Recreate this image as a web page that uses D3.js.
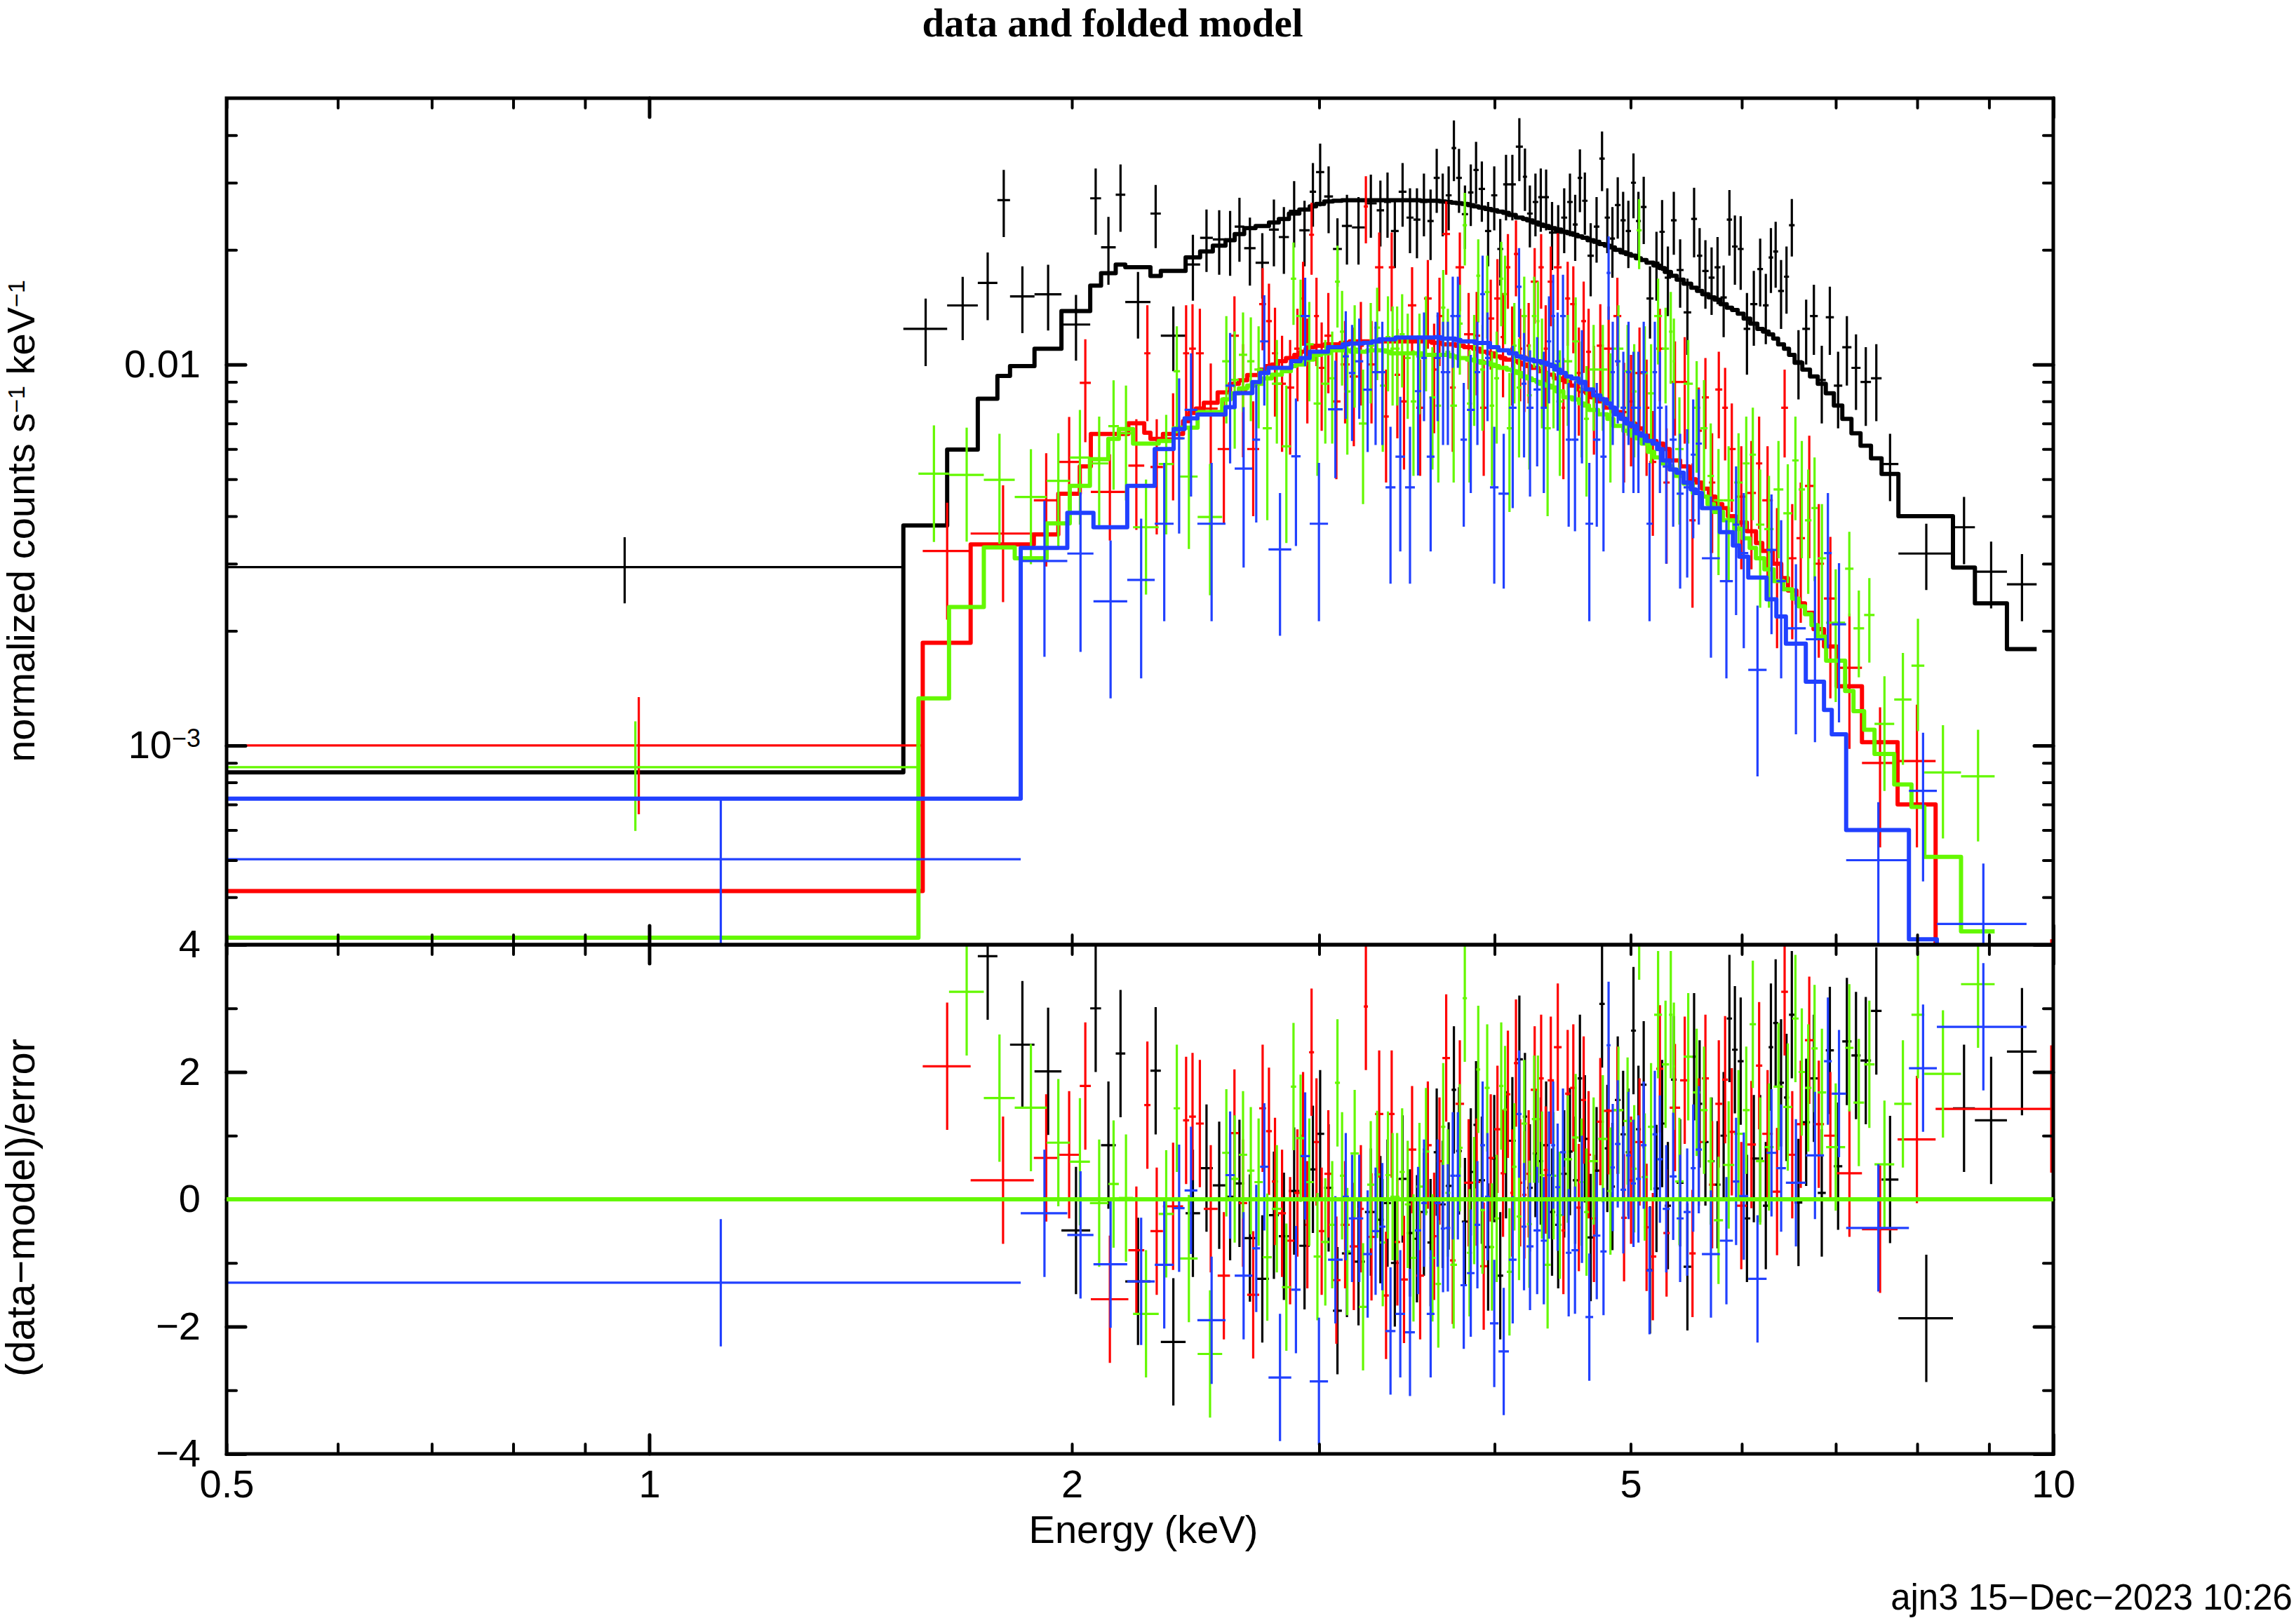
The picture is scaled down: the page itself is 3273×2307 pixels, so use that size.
<!DOCTYPE html>
<meta charset="utf-8">
<style>
html, body {
  margin: 0;
  padding: 0;
  background: #fff;
}
svg {
  display: block;
  font-family: "Liberation Sans", Arial, sans-serif;
  font-size: 56px;
}
svg text {
  fill: #000;
  stroke: none;
}
.title {
  font-family: "Liberation Serif", serif;
  font-weight: bold;
  font-size: 57px;
}
.tick line, .frame {
  stroke: #000;
  fill: none;
  stroke-linecap: round;
}
.frame {
  stroke-width: 5px;
}
.cross {
  stroke-width: 3.2px;
  fill: none;
}
.model {
  stroke-width: 6px;
  fill: none;
  stroke-linejoin: round;
}
</style>
<body>
<div id="chart"></div>
<script src="https://d3js.org/d3.v7.min.js"></script>
<script>

// each row of a spectrum: upper bin edge (keV), data, data error, folded model, (data-model)/error
// a residual of 6 means the point is off the top of the lower panel
var blackLow = 0.404;
var blackBins = [
  [1.517, .00294, .00058, .00085, 6], [1.630, .0124, .0025, .00378, 6], [1.714, .01429, .0027, .00598, 6],
  [1.770, .01637, .0033, .00813, 3.82], [1.807, .027, .0054, .00933, 6], [1.881, .01509, .003, .0099, 2.43],
  [1.966, .01528, .003, .011, 2.01], [2.061, .01273, .0025, .01382, -.49], [2.098, .0273, .0054, .01611, 3.0],
  [2.149, .0203, .0041, .01737, .85], [2.183, .0279, .0056, .0183, 2.29], [2.275, .01459, .0029, .018, -1.29],
  [2.314, .0249, .0047, .01708, 2.02], [2.410, .0119, .0023, .0176, -2.24], [2.468, .0183, .0036, .0191, -.22],
  [2.520, .0215, .004, .0198, .49], [2.573, .0213, .0041, .0205, .22], [2.612, .0212, .0041, .0212, .04],
  [2.653, .023, .0044, .022, .25], [2.703, .0202, .0041, .0228, -.61], [2.763, .0185, .0036, .0231, -1.25],
  [2.808, .0226, .0045, .0236, -.25], [2.855, .0216, .0043, .0241, -.58], [2.904, .0253, .005, .0249, .13],
  [2.954, .0225, .0044, .0255, -.73], [2.985, .0284, .0054, .026, .47], [3.025, .032, .006, .0264, 1.03],
  [3.069, .0276, .0055, .0268, .18], [3.114, .0201, .0041, .0269, -1.75], [3.166, .0231, .0048, .027, -.85],
  [3.234, .0229, .0046, .027, -.98], [3.297, .0265, .005, .027, -.2], [3.337, .0254, .005, .027, -.32],
  [3.375, .0267, .0052, .027, -.06], [3.418, .0224, .0045, .027, -1.0], [3.462, .0284, .0054, .027, .32],
  [3.502, .0243, .0047, .027, -.53], [3.542, .024, .005, .027, -.62], [3.583, .0267, .005, .0269, -.2],
  [3.620, .0238, .005, .0269, -.68], [3.656, .0309, .0059, .0269, .74], [3.692, .0267, .005, .0268, -.08],
  [3.728, .0278, .0053, .0267, .21], [3.756, .037, .0067, .0266, 1.72], [3.791, .0309, .0059, .0265, .76],
  [3.830, .0248, .0047, .0264, -.35], [3.864, .0283, .0052, .0262, .43], [3.897, .0324, .006, .026, 1.17],
  [3.938, .0289, .0052, .0258, .3], [3.978, .0224, .0043, .0256, -.75], [4.018, .0278, .0053, .0254, .64],
  [4.057, .0201, .004, .0252, -1.2], [4.095, .0297, .0058, .025, .7], [4.142, .0297, .0058, .0247, .92],
  [4.190, .0373, .007, .0243, 2.2], [4.219, .0311, .0058, .0241, 1.3], [4.258, .0249, .0046, .0239, .18],
  [4.297, .0267, .005, .0236, .72], [4.333, .0275, .0052, .0233, .6], [4.373, .0275, .005, .0231, .85],
  [4.418, .0222, .0045, .0228, -.2], [4.462, .0222, .004, .0226, -.4], [4.506, .0243, .0047, .0223, .4],
  [4.547, .0267, .005, .0221, .75], [4.584, .0233, .0046, .0219, .3], [4.618, .0309, .0058, .0217, 1.9],
  [4.659, .0269, .005, .0215, .95], [4.707, .0193, .0042, .0212, -.6], [4.750, .023, .0045, .021, .45],
  [4.792, .0347, .0062, .0207, 3.07], [4.833, .0243, .0047, .0205, .8], [4.873, .0214, .0045, .0203, .2],
  [4.918, .0262, .0048, .02, 1.56], [4.960, .0239, .0045, .0197, 1.02], [5.003, .0224, .0045, .0195, .74],
  [5.044, .03, .0058, .0193, 2.65], [5.085, .0238, .0046, .019, 1.1], [5.132, .0259, .0052, .0188, 1.8],
  [5.191, .0149, .0032, .0185, -1.11], [5.242, .0185, .0038, .0182, .17], [5.288, .0223, .0047, .0179, 1.19],
  [5.342, .0169, .0035, .0175, -.1], [5.392, .0239, .0045, .0171, 1.88], [5.454, .0177, .0036, .0167, .26],
  [5.522, .0137, .0031, .0163, -1.06], [5.575, .0241, .005, .0159, 2.24], [5.623, .0193, .0035, .0156, 1.5],
  [5.682, .0176, .0036, .0153, .9], [5.738, .0169, .0034, .015, .6], [5.794, .018, .0036, .0148, .23],
  [5.854, .015, .0032, .0144, 1.0], [5.905, .024, .0047, .0141, 2.84], [5.960, .0204, .0042, .0139, 2.35],
  [6.018, .0201, .0044, .0136, 2.17], [6.084, .0124, .003, .0132, -.3], [6.155, .0144, .0032, .0128, .64],
  [6.212, .0178, .0036, .0124, .64], [6.270, .0143, .003, .0122, -.1], [6.317, .0191, .0037, .012, 2.39],
  [6.368, .0198, .0039, .0117, 2.77], [6.430, .0156, .0032, .0113, 1.83], [6.483, .017, .0034, .011, 1.6],
  [6.543, .0232, .004, .0106, 2.9], [6.626, .0102, .0021, .0101, -.05], [6.710, .0124, .0024, .0097, 1.21],
  [6.796, .0134, .0028, .0093, 1.9], [6.886, .0091, .0021, .0089, .1], [6.978, .0133, .0027, .0084, 2.34],
  [7.075, .0088, .002, .0078, .52], [7.182, .0111, .0023, .0072, 2.48], [7.290, .0098, .0022, .0066, 2.26],
  [7.416, .009, .0021, .00612, 2.18], [7.546, .0092, .0021, .00567, 2.96], [7.757, .00548, .0011, .00516, .31],
  [8.483, .00319, .00063, .004, -1.87], [8.794, .00374, .00075, .00293, 1.43], [9.268, .00286, .00057, .00236, 1.24],
  [9.731, .00265, .00053, .00179, 2.32]
];

var redLow = 0.4;
var redBins = [
  [1.566, .001, .00034, .000415, 6], [1.694, .00324, .0011, .00186, 2.09], [1.879, .0036, .00122, .00337, .3],
  [1.956, .0044, .00145, .00358, .65], [2.026, .00555, .00173, .00458, .7], [2.063, .00895, .0027, .0054, 1.78],
  [2.194, .00463, .00118, .00657, -1.57], [2.252, .00543, .00175, .00701, -.8], [2.275, .0107, .0036, .00662, 1.48],
  [2.322, .00538, .0018, .00638, -.5], [2.400, .0064, .002, .00657, -.11], [2.424, .0107, .0036, .0071, 1.24],
  [2.451, .011, .0034, .00746, 1.3], [2.483, .0107, .0033, .00766, 1.19], [2.540, .00766, .0024, .00794, -.15],
  [2.592, .006, .0022, .00845, -1.2], [2.630, .0119, .0032, .0089, 1.04], [2.666, .00851, .0028, .00909, -.06],
  [2.719, .006, .002, .00938, -1.5], [2.750, .0144, .0035, .0097, 1.43], [2.776, .013, .0033, .0099, 1.07],
  [2.805, .0107, .0034, .01, .28], [2.841, .0089, .003, .0102, -.22], [2.880, .0087, .0029, .0104, -.65],
  [2.910, .011, .003, .0106, .1], [2.934, .0149, .0037, .0108, 1.0], [2.951, .0101, .0031, .011, -.4],
  [2.975, .0219, .0047, .0111, 2.31], [2.999, .0134, .0035, .0112, .9], [3.026, .0098, .0031, .0112, -.5],
  [3.065, .0119, .0035, .0113, .4], [3.107, .008, .003, .0113, -1.27], [3.154, .01, .003, .0114, -.4],
  [3.197, .0093, .0032, .0115, -.74], [3.228, .0112, .0034, .0115, -.15], [3.250, .026, .0052, .0115, 3.03],
  [3.288, .01, .003, .0115, -.59], [3.333, .018, .0042, .0115, 1.34], [3.363, .0073, .0024, .0115, -1.51],
  [3.395, .018, .0042, .0115, 1.34], [3.426, .0094, .003, .0115, -.67], [3.470, .008, .0027, .0115, -1.26],
  [3.518, .0143, .0037, .0115, .78], [3.563, .0077, .0026, .0115, -1.2], [3.608, .0149, .0039, .0115, .85],
  [3.637, .0097, .0031, .0114, -.58], [3.672, .0134, .0035, .0114, .6], [3.718, .022, .0048, .0113, 2.22],
  [3.752, .0087, .0028, .0113, -.96], [3.805, .018, .0042, .0112, 1.5], [3.862, .012, .0034, .0111, .26],
  [3.907, .0119, .0036, .011, .27], [3.952, .0077, .0026, .0108, -1.05], [3.998, .0132, .0035, .0107, .65],
  [4.040, .0149, .004, .0105, 1.1], [4.072, .0118, .0036, .0104, .41], [4.105, .018, .004, .0103, 1.65],
  [4.129, .011, .0032, .0103, .1], [4.157, .0195, .0044, .0102, 2.14], [4.186, .011, .003, .0101, .26],
  [4.215, .0105, .003, .01, .07], [4.245, .0112, .0033, .0099, .4], [4.299, .0165, .0037, .0098, 1.72],
  [4.336, .018, .004, .0096, 1.9], [4.364, .011, .0033, .0095, .46], [4.409, .0165, .0039, .0094, 1.87],
  [4.465, .018, .0041, .0092, 2.39], [4.491, .0077, .0027, .0091, -.49], [4.528, .0149, .0037, .009, 1.66],
  [4.575, .0144, .0037, .0088, 1.75], [4.611, .0095, .003, .0086, -.13], [4.648, .013, .0035, .0085, 1.56],
  [4.686, .0108, .0032, .0084, .7], [4.730, .0085, .0027, .0082, -.3], [4.785, .0112, .0032, .008, 1.22],
  [4.861, .011, .0032, .0077, 1.39], [4.924, .0134, .0035, .0075, 1.4], [4.969, .0075, .0026, .0072, -.29],
  [5.038, .008, .0026, .007, .3], [5.109, .0095, .003, .0068, .9], [5.156, .0077, .0026, .0065, -.44],
  [5.215, .00555, .002, .0063, -.9], [5.276, .011, .003, .0062, 2.05], [5.331, .0049, .0019, .006, -.53],
  [5.423, .009, .0025, .0056, 1.44], [5.505, .009, .0028, .0054, 1.87], [5.563, .0039, .0016, .005, -.85],
  [5.620, .0067, .002, .0049, .9], [5.685, .0082, .0022, .00472, 1.9], [5.745, .0049, .0017, .0045, .23],
  [5.811, .0086, .0022, .0043, 1.5], [5.865, .0077, .0021, .0042, 1.88], [5.940, .006, .0019, .004, 1.06],
  [6.050, .0045, .0016, .00385, -.1], [6.141, .0046, .0017, .00365, .86], [6.205, .0055, .0018, .0034, 2.1],
  [6.313, .0044, .0017, .00324, 1.03], [6.401, .003, .0012, .003, .12], [6.472, .0077, .002, .00275, 3.26],
  [6.563, .0031, .0012, .00255, .7], [6.655, .0035, .0014, .00236, 1.18], [6.749, .0048, .0017, .00223, 2.5],
  [6.866, .003, .0013, .00202, 1.18], [7.010, .00243, .0011, .00182, 1.0], [7.307, .0016, .00062, .00143, .41],
  [7.747, .0009, .00036, .00102, -.47], [8.245, .00091, .00037, .0007, .94], [11.69, .0002, .00011, .0002, 1.42]
];

var greenLow = 0.4;
var greenBins = [
  [1.555, .000877, .00028, .000313, 6], [1.635, .00517, .00175, .00133, 6], [1.731, .00513, .0017, .00231, 3.26],
  [1.821, .00498, .0016, .00331, 1.59], [1.919, .00449, .0015, .0031, 1.44], [1.993, .00495, .00165, .00383, .89],
  [2.060, .0057, .0019, .0048, .59], [2.123, .0055, .0018, .00564, -.06], [2.160, .00689, .0022, .00638, .24],
  [2.211, .0066, .0022, .00677, .02], [2.306, .00374, .00125, .0062, -1.8], [2.363, .00548, .0019, .0063, -.23],
  [2.388, .0096, .003, .0068, 1.43], [2.458, .00508, .0018, .00683, -.93], [2.559, .00398, .0015, .0075, -2.43],
  [2.594, .0102, .0032, .0081, .73], [2.630, .00911, .0031, .0084, .32], [2.666, .0106, .0031, .00866, .7],
  [2.698, .0102, .0031, .0088, .45], [2.735, .0097, .0029, .0089, .27], [2.776, .0068, .0029, .0092, -.91],
  [2.822, .0089, .0027, .0094, -.15], [2.864, .0061, .0027, .0096, -1.38], [2.889, .0168, .0041, .0099, 1.77],
  [2.931, .0134, .0033, .01, .96], [2.973, .0113, .0033, .0103, .27], [3.010, .0079, .0028, .0106, -.9],
  [3.051, .0089, .0027, .0107, -.67], [3.079, .0092, .003, .0109, -.4], [3.104, .0165, .004, .0109, 1.83],
  [3.126, .0122, .0034, .0109, .37], [3.158, .0085, .0027, .0109, -.82], [3.202, .011, .0033, .0108, .72],
  [3.246, .007, .0027, .0108, -1.69], [3.284, .0112, .0033, .0109, .23], [3.315, .0125, .0034, .0109, .39],
  [3.345, .0088, .0029, .0109, -.68], [3.372, .0118, .0033, .0108, .38], [3.396, .011, .0032, .0107, .04],
  [3.423, .011, .0032, .0107, .04], [3.452, .012, .0033, .0107, .43], [3.486, .0104, .0032, .0107, -.08],
  [3.518, .008, .0029, .0107, -.92], [3.555, .0105, .0031, .0107, .2], [3.594, .0118, .0033, .0106, .75],
  [3.631, .0082, .0029, .0106, -.92], [3.664, .0078, .0029, .0106, -1.33], [3.690, .0141, .0036, .0106, 1.14],
  [3.720, .0108, .0032, .0106, .1], [3.761, .0078, .0029, .0105, -1.03], [3.796, .0128, .0034, .0104, .81],
  [3.823, .0232, .005, .0104, 3.16], [3.855, .0079, .003, .0103, -.84], [3.882, .0102, .0033, .0103, -.02],
  [3.907, .0171, .0042, .0102, 2.04], [3.936, .0097, .003, .0101, -.17], [3.968, .0155, .0038, .0101, 1.75],
  [3.998, .0078, .003, .01, -.75], [4.030, .0092, .003, .0099, -.3], [4.058, .0168, .0042, .0098, 1.78],
  [4.081, .0153, .004, .0098, 1.41], [4.117, .0068, .0027, .0097, -1.14], [4.147, .0112, .0033, .0096, .51],
  [4.181, .0087, .003, .0095, -.27], [4.218, .0134, .0036, .0093, 1.19], [4.252, .0083, .003, .0092, -.39],
  [4.284, .0134, .0036, .0091, 1.26], [4.306, .013, .0035, .009, 1.26], [4.341, .01, .0032, .0089, .38],
  [4.386, .0068, .0028, .0088, -1.03], [4.426, .01, .0032, .0087, .37], [4.478, .008, .0029, .0085, -.25],
  [4.543, .0102, .0033, .0082, .63], [4.595, .0115, .0035, .0081, .97], [4.632, .0086, .0029, .0079, .27],
  [4.670, .0072, .0027, .0078, -.2], [4.741, .0097, .003, .0076, .6], [4.813, .0097, .003, .0074, .95],
  [4.861, .0078, .0029, .0072, .13], [4.941, .011, .0033, .0069, 1.4], [5.009, .0096, .0031, .0067, 1.23],
  [5.050, .0085, .0028, .0065, .48], [5.091, .0225, .0047, .0064, 4.45], [5.144, .0095, .0031, .0062, .35],
  [5.197, .0084, .0029, .0059, 1.14], [5.264, .0134, .0034, .0057, 2.9], [5.325, .011, .0031, .0055, 2.12],
  [5.356, .0122, .0033, .0054, 2.9], [5.379, .0102, .003, .0053, 2.09], [5.454, .006, .0022, .0051, .28],
  [5.537, .0089, .0027, .00487, 2.24], [5.607, .0077, .0025, .0046, 1.68], [5.672, .0068, .0023, .0045, 1.4],
  [5.732, .0051, .0019, .0043, .6], [5.818, .0044, .0016, .0041, -.33], [5.926, .0044, .0017, .0039, .54],
  [6.010, .0049, .0017, .0037, 1.03], [6.078, .0055, .0018, .0035, 1.4], [6.141, .0058, .0019, .0033, 2.75],
  [6.226, .0038, .0015, .0031, .6], [6.321, .0037, .0014, .0029, .82], [6.423, .0047, .0016, .0027, 1.77],
  [6.517, .00407, .0014, .00257, 1.45], [6.586, .0056, .0017, .00243, 2.84], [6.655, .0047, .0016, .00232, 2.0],
  [6.726, .0039, .0014, .00221, 1.75], [6.795, .0042, .0015, .00207, 2.37], [6.890, .0031, .0012, .00193, 1.68],
  [7.108, .0021, .0008, .00167, .82], [7.206, .00291, .00073, .00139, 2.38], [7.333, .00203, .00052, .00123, 1.52],
  [7.459, .0022, .00055, .0011, 2.12], [7.704, .00114, .00038, .00095, .55], [7.925, .00132, .00043, .00079, 1.5],
  [8.094, .00162, .00053, .00069, 2.9], [8.596, .00085, .00028, .00051, 1.97], [9.083, .00083, .00027, .000325, 3.38]
];

var blueLow = 0.41;
var blueBins = [
  [1.839, .000503, .00022, .000725, -1.31], [1.985, .00305, .00134, .0033, -.22], [2.072, .00319, .00143, .00408, -.56],
  [2.190, .00239, .00106, .00374, -1.02], [2.291, .00272, .00122, .0048, -1.29], [2.363, .00382, .0017, .006, -1.03],
  [2.406, .0064, .0028, .00677, -.14], [2.457, .0076, .0031, .00722, .14], [2.573, .00382, .0017, .00739, -1.9],
  [2.612, .0088, .0033, .00773, .38], [2.689, .00533, .0024, .00841, -1.2], [2.723, .00635, .0025, .00899, -.77],
  [2.761, .0115, .0037, .0095, .51], [2.866, .00327, .00133, .0098, -2.8], [2.910, .00574, .0024, .0102, -1.42],
  [2.954, .0134, .0035, .0104, .68], [3.044, .00382, .0017, .0108, -2.86], [3.118, .00763, .0026, .0111, -.95],
  [3.150, .0105, .0033, .0113, .04], [3.183, .0095, .0032, .01136, -.3], [3.225, .0102, .003, .01136, -.3],
  [3.272, .00859, .0027, .0114, -.86], [3.310, .00955, .0034, .0115, -.5], [3.345, .00955, .0034, .01165, -.43],
  [3.400, .00476, .0021, .01165, -2.07], [3.454, .00573, .0025, .01177, -1.8], [3.510, .00476, .0021, .01177, -2.09],
  [3.547, .00851, .0034, .01177, -.49], [3.579, .0104, .0033, .01177, -.06], [3.625, .00573, .0025, .01177, -1.8],
  [3.662, .0104, .0033, .0118, -.06], [3.690, .00955, .0034, .0117, -.46], [3.720, .00955, .0034, .0117, -.45],
  [3.750, .0134, .0036, .0117, .37], [3.783, .0134, .0036, .0116, .37], [3.823, .00635, .0026, .0115, -1.35],
  [3.871, .0076, .003, .0115, -1.16], [3.907, .00955, .0034, .01139, -.4], [3.938, .0153, .004, .01139, .85],
  [3.970, .0104, .0033, .01139, .04], [4.026, .00476, .0021, .0111, -1.95], [4.095, .00458, .002, .0109, -2.39],
  [4.147, .0077, .0035, .0107, -.95], [4.181, .016, .0042, .0105, 1.34], [4.215, .0089, .0032, .0104, -.43],
  [4.264, .0077, .0032, .0103, -.74], [4.315, .0086, .0032, .0102, -.49], [4.358, .0077, .0031, .0101, -.65],
  [4.389, .0115, .0036, .01, .38], [4.418, .0134, .0038, .0099, .85], [4.454, .0102, .0035, .0097, .19],
  [4.496, .0134, .0038, .0095, .74], [4.538, .00635, .0026, .0093, -.84], [4.590, .00635, .0027, .0092, -.8],
  [4.643, .0089, .0034, .009, 0], [4.702, .00382, .0017, .0086, -1.85], [4.758, .00635, .0026, .0083, -.57],
  [4.807, .00573, .0025, .0081, -.82], [4.838, .0174, .0043, .0079, 2.42], [4.873, .00955, .0034, .0077, .5],
  [4.918, .0102, .0032, .0074, .87], [4.963, .0077, .0031, .0072, .15], [5.003, .00955, .0034, .007, .69],
  [5.044, .0077, .0031, .0069, .25], [5.085, .0077, .0031, .0066, .32], [5.132, .00955, .0034, .0065, .85],
  [5.183, .00382, .0017, .0063, -1.12], [5.222, .00955, .0034, .0062, 1.02], [5.270, .0077, .0031, .006, .63],
  [5.331, .0054, .0024, .0056, -.15], [5.392, .00635, .0026, .0053, .36], [5.454, .00458, .002, .0052, -.3],
  [5.518, .00476, .002, .0049, -.2], [5.563, .0058, .0023, .0047, .49], [5.620, .0062, .0024, .0046, .78],
  [5.788, .0031, .0014, .0042, -.86], [5.913, .0027, .0012, .00363, -.65], [5.975, .0038, .0016, .00335, .28],
  [6.064, .0032, .0014, .00313, .05], [6.249, .00158, .00075, .00276, -1.25], [6.350, .00326, .0013, .00242, .73],
  [6.450, .0027, .0012, .00218, .49], [6.664, .00203, .00096, .00185, .26], [6.866, .0019, .00088, .00147, .69],
  [6.954, .0032, .0014, .00124, 2.17], [7.120, .00208, .00093, .00107, 1.66], [7.892, .0005, .00021, .0006, -.45],
  [8.262, .00076, .00032, .00031, 2.06], [9.571, .00034, .00015, .0002, 2.71]
];

var spectra = [
  { color: '#000', low: blackLow, bins: blackBins },
  { color: '#ff0000', low: redLow, bins: redBins },
  { color: '#64f800', low: greenLow, bins: greenBins },
  { color: '#2140ff', low: blueLow, bins: blueBins }
];

var xMajor = [1, 10];
var xMinor = [.5, .6, .7, .8, .9, 2, 3, 4, 5, 6, 7, 8, 9];
var xLabels = [.5, 1, 2, 5, 10];
var yTopMajor = [.001, .01];
var yTopMinor = [.0003, .0004, .0005, .0006, .0007, .0008, .0009, .002, .003, .004, .005, .006, .007, .008, .009, .02, .03, .04];
var yResMajor = [-4, -2, 0, 2, 4];
var yResMinor = [-3, -1, 1, 3];

var left = 323, right = 2927, top0 = 140, mid = 1347, bottom = 2073;

var x = d3.scaleLog().domain([.5, 10]).range([left, right]);
var yTop = d3.scaleLog().domain([.0003, .05]).range([mid, top0]);
var yRes = d3.scaleLinear().domain([-4, 4]).range([bottom, mid]);

var svg = d3.select('#chart').append('svg')
  .attr('width', 3273)
  .attr('height', 2307);

var defs = svg.append('defs');
defs.append('clipPath').attr('id', 'clip-top').append('rect')
  .attr('x', left).attr('y', top0).attr('width', right - left).attr('height', mid - top0);
defs.append('clipPath').attr('id', 'clip-res').append('rect')
  .attr('x', left).attr('y', mid).attr('width', right - left).attr('height', bottom - mid);

var topPanel = svg.append('g').attr('clip-path', 'url(#clip-top)');
var resPanel = svg.append('g').attr('clip-path', 'url(#clip-res)');

var modelLine = d3.line()
  .x(function (d) { return x(d[0]); })
  .y(function (d) { return yTop(d[1]); })
  .curve(d3.curveStepAfter);

spectra.forEach(function (s) {
  var rows = s.bins.map(function (b, i) {
    var lo = i === 0 ? s.low : s.bins[i - 1][0];
    return { lo: lo, hi: b[0], mid: (lo + b[0]) / 2, y: b[1], dy: b[2], model: b[3], res: b[4] };
  });

  topPanel.append('g').attr('class', 'cross')
    .attr('stroke', s.color)
    .selectAll('path')
    .data(rows)
    .enter().append('path')
    .attr('d', function (d) {
      return 'M' + x(d.lo) + ',' + yTop(d.y) + 'H' + x(d.hi)
        + 'M' + x(d.mid) + ',' + yTop(d.y + d.dy) + 'V' + yTop(Math.max(d.y - d.dy, 1e-5));
    });

  var steps = rows.map(function (d) { return [d.lo, d.model]; });
  steps.push([rows[rows.length - 1].hi, rows[rows.length - 1].model]);
  topPanel.append('path').attr('class', 'model')
    .attr('stroke', s.color)
    .attr('d', modelLine(steps));

  // residual bars are one error long each way
  resPanel.append('g').attr('class', 'cross')
    .attr('stroke', s.color)
    .selectAll('path')
    .data(rows)
    .enter().append('path')
    .attr('d', function (d) {
      return 'M' + x(d.lo) + ',' + yRes(d.res) + 'H' + x(d.hi)
        + 'M' + x(d.mid) + ',' + yRes(d.res + 1) + 'V' + yRes(d.res - 1);
    });
});

svg.append('rect').attr('class', 'frame')
  .attr('x', left).attr('y', top0).attr('width', right - left).attr('height', mid - top0);
svg.append('rect').attr('class', 'frame')
  .attr('x', left).attr('y', mid).attr('width', right - left).attr('height', bottom - mid);

// ticks all point into the panels, so the sizes are negative
function ticks(axisFn, scale, values, size, width, tx, ty) {
  var g = svg.append('g')
    .attr('transform', 'translate(' + [tx, ty] + ')')
    .call(axisFn(scale).tickValues(values).tickSizeOuter(0).tickSizeInner(-size).tickFormat(''));
  g.select('.domain').remove();
  g.selectAll('line').style('stroke-width', width + 'px');
}

var majorLen = 27, minorLen = 14;
[[d3.axisBottom, bottom], [d3.axisTop, top0], [d3.axisTop, mid], [d3.axisBottom, mid]].forEach(function (a) {
  ticks(a[0], x, xMajor, majorLen, 5, 0, a[1]);
  ticks(a[0], x, xMinor, minorLen, 4, 0, a[1]);
});
[[d3.axisLeft, left], [d3.axisRight, right]].forEach(function (a) {
  ticks(a[0], yTop, yTopMajor, majorLen, 5, a[1], 0);
  ticks(a[0], yTop, yTopMinor, minorLen, 4, a[1], 0);
  ticks(a[0], yRes, yResMajor, majorLen, 5, a[1], 0);
  ticks(a[0], yRes, yResMinor, minorLen, 4, a[1], 0);
});

// the zero line of the residuals is the last thing plotted, over the ticks
svg.append('line')
  .attr('x1', left).attr('x2', right)
  .attr('y1', yRes(0)).attr('y2', yRes(0))
  .attr('stroke', spectra[2].color)
  .attr('stroke-width', 6);

function strip(g) {
  g.select('.domain').remove();
  g.selectAll('line').remove();
  g.attr('font-size', null).attr('font-family', null);
}

svg.append('g')
  .attr('transform', 'translate(0,' + bottom + ')')
  .call(d3.axisBottom(x).tickValues(xLabels).tickSize(0).tickPadding(22)
    .tickFormat(function (d) { return String(d); }))
  .call(strip);

svg.append('g')
  .attr('transform', 'translate(' + (left - 37) + ',0)')
  .call(d3.axisLeft(yRes).tickValues(yResMajor).tickSize(0).tickPadding(0)
    .tickFormat(function (d) { return d < 0 ? '\u2212' + Math.abs(d) : String(d); }))
  .call(strip);

var topLabels = svg.append('g')
  .attr('transform', 'translate(' + (left - 37) + ',0)')
  .call(d3.axisLeft(yTop).tickValues(yTopMajor).tickSize(0).tickPadding(0)
    .tickFormat(function (d) { return d === .01 ? '0.01' : '10'; }))
  .call(strip);
topLabels.selectAll('text').filter(function (d) { return d === .001; })
  .append('tspan').attr('font-size', 36).attr('dy', -16).text('\u22123');

svg.append('text').attr('class', 'title')
  .attr('x', 1586).attr('y', 52)
  .attr('text-anchor', 'middle')
  .text('data and folded model');

svg.append('text')
  .attr('x', 1630).attr('y', 2200)
  .attr('text-anchor', 'middle')
  .text('Energy (keV)');

var yLabel = svg.append('text')
  .attr('transform', 'translate(49,743) rotate(-90)')
  .attr('text-anchor', 'middle');
yLabel.append('tspan').text('normalized counts s');
yLabel.append('tspan').attr('font-size', 34).attr('dy', -14).text('\u22121');
yLabel.append('tspan').attr('dy', 14).text(' keV');
yLabel.append('tspan').attr('font-size', 34).attr('dy', -14).text('\u22121');

svg.append('text')
  .attr('transform', 'translate(49,1722) rotate(-90)')
  .attr('text-anchor', 'middle')
  .attr('font-size', 58)
  .text('(data\u2212model)/error');

svg.append('text')
  .attr('x', 3268).attr('y', 2295)
  .attr('text-anchor', 'end')
  .attr('font-size', 51)
  .text('ajn3 15\u2212Dec\u22122023 10:26');

</script>
</body>
